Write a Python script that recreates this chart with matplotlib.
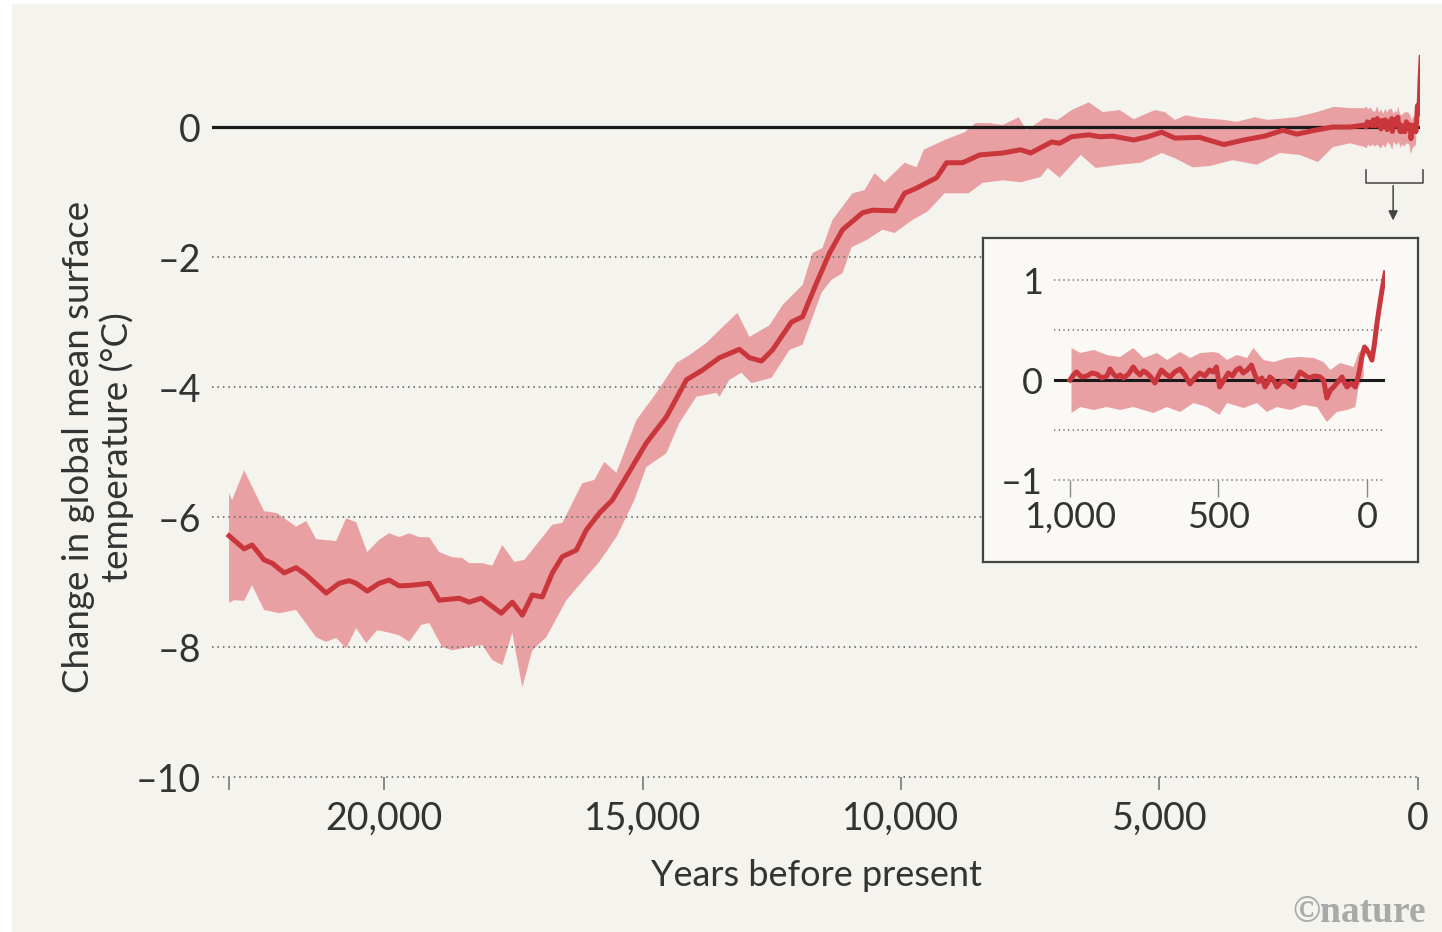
import numpy as np
import matplotlib.pyplot as plt

plt.rcParams['font.family'] = ['Lato', 'DejaVu Sans']

# Global mean surface temperature anomaly (deg C), years before present
years = [23000, 22709, 22554, 22322, 22167, 21935, 21703, 21509, 21122, 20870,
         20676, 20541, 20328, 20096, 19902, 19708, 19457, 19128, 18934, 18547,
         18353, 18121, 17734, 17521, 17327, 17134, 16940, 16746, 16553, 16282,
         16088, 15836, 15585, 15314, 14927, 14540, 14152, 13842, 13513, 13126,
         12932, 12700, 12487, 12119, 11906, 11635, 11384, 11132, 10745, 10551,
         10125, 9932, 9699, 9312, 9119, 8809, 8480, 8034, 7686, 7492,
         7086, 6931, 6699, 6369, 6156, 5905, 5498, 5227, 4956, 4704,
         4220, 3756, 3369, 2962, 2614, 2343, 1994, 1646, 1316, 1026]
temp = [-6.29, -6.49, -6.43, -6.66, -6.71, -6.86, -6.78, -6.89, -7.17, -7.02,
        -6.98, -7.02, -7.14, -7.02, -6.97, -7.06, -7.05, -7.02, -7.28, -7.25,
        -7.31, -7.25, -7.48, -7.31, -7.51, -7.20, -7.23, -6.86, -6.61, -6.51,
        -6.20, -5.94, -5.74, -5.38, -4.86, -4.46, -3.89, -3.74, -3.55, -3.42,
        -3.55, -3.60, -3.43, -3.00, -2.92, -2.40, -1.94, -1.58, -1.32, -1.28,
        -1.29, -1.02, -0.94, -0.78, -0.55, -0.55, -0.43, -0.40, -0.35, -0.40,
        -0.23, -0.25, -0.15, -0.12, -0.15, -0.14, -0.20, -0.15, -0.08, -0.17,
        -0.16, -0.27, -0.20, -0.14, -0.05, -0.11, -0.05, 0.00, 0.00, 0.03]

# uncertainty envelope (upper and lower edges)
upper_years = [23000, 22941, 22709, 22322, 22070, 21703, 21509, 21315, 20928, 20735,
               20541, 20328, 20096, 19902, 19708, 19515, 19321, 19128, 18934, 18682,
               18489, 18353, 18102, 17908, 17714, 17482, 17288, 16746, 16553, 16166,
               15933, 15740, 15507, 15120, 14733, 14346, 14094, 13765, 13455, 13165,
               12932, 12545, 12294, 11906, 11713, 11519, 11326, 10938, 10706, 10512,
               10319, 9932, 9699, 9560, 9157, 8770, 8557, 8286, 8034, 7725,
               7570, 7221, 6970, 6699, 6369, 6098, 5769, 5498, 5092, 4898,
               4704, 4491, 4220, 3756, 3504, 3156, 2904, 2362, 1955, 1626,
               1297, 1026]
upper = [-5.63, -5.74, -5.28, -5.91, -5.94, -6.15, -6.06, -6.34, -6.37, -6.02,
         -6.08, -6.54, -6.35, -6.25, -6.31, -6.25, -6.31, -6.31, -6.54, -6.62,
         -6.63, -6.71, -6.71, -6.75, -6.43, -6.69, -6.66, -6.12, -6.09, -5.48,
         -5.43, -5.15, -5.32, -4.51, -4.09, -3.63, -3.51, -3.32, -3.08, -2.86,
         -3.23, -3.05, -2.74, -2.43, -1.94, -1.86, -1.43, -1.02, -0.97, -0.71,
         -0.85, -0.55, -0.62, -0.35, -0.20, -0.08, 0.06, 0.06, 0.03, 0.15,
         -0.05, 0.14, 0.11, 0.26, 0.38, 0.23, 0.26, 0.12, 0.26, 0.23,
         0.11, 0.18, 0.14, 0.11, 0.08, 0.15, 0.11, 0.15, 0.23, 0.31,
         0.29, 0.29]
lower_years = [23000, 22903, 22709, 22554, 22322, 22032, 21703, 21315, 21122, 20928,
               20735, 20541, 20347, 20134, 19902, 19708, 19515, 19283, 19128, 18876,
               18682, 18353, 18102, 17908, 17714, 17521, 17327, 17134, 16863, 16475,
               16088, 15836, 15500, 15159, 14927, 14540, 14288, 13959, 13571, 13513,
               13320, 13087, 12894, 12507, 12158, 11906, 11539, 11345, 11132, 10958,
               10667, 10358, 10125, 9777, 9486, 9157, 8693, 8422, 8034, 7686,
               7299, 7163, 6931, 6524, 6234, 5769, 5363, 4956, 4704, 4356,
               4027, 3582, 3117, 2672, 2284, 1936, 1646, 1316, 1026]
lower = [-7.32, -7.28, -7.29, -7.05, -7.43, -7.48, -7.43, -7.85, -7.92, -7.86,
         -8.02, -7.71, -7.94, -7.74, -7.78, -7.82, -7.92, -7.66, -7.63, -8.00,
         -8.05, -8.00, -7.97, -8.20, -8.28, -7.78, -8.62, -8.05, -7.85, -7.28,
         -6.92, -6.69, -6.30, -5.74, -5.23, -5.02, -4.55, -4.15, -4.09, -4.15,
         -3.89, -3.78, -3.94, -3.86, -3.43, -3.35, -2.55, -2.35, -2.25, -1.85,
         -1.74, -1.58, -1.63, -1.43, -1.30, -1.02, -1.02, -0.86, -0.82, -0.85,
         -0.77, -0.63, -0.78, -0.43, -0.63, -0.58, -0.55, -0.40, -0.48, -0.62,
         -0.60, -0.51, -0.58, -0.40, -0.43, -0.54, -0.31, -0.25, -0.31]

# last millennium (shown in inset)
recent_years = [1000, 989, 978, 961, 943, 927, 910, 893, 876, 865,
                854, 843, 831, 820, 803, 787, 775, 764, 753, 742,
                728, 714, 703, 692, 678, 663, 647, 630, 613, 596,
                580, 563, 546, 530, 518, 507, 496, 481, 467, 453,
                440, 428, 417, 403, 389, 377, 366, 354, 343, 335,
                327, 315, 303, 289, 275, 261, 247, 236, 225, 210,
                196, 176, 157, 146, 135, 123, 112, 98, 84, 75,
                67, 53, 39, 28, 17, 8, 0, -8, -17, -25,
                -34, -43, -51, -62]
recent_temp = [0.00, 0.05, 0.08, 0.03, 0.04, 0.07, 0.06, 0.02, 0.04, 0.11,
               0.06, 0.03, 0.05, 0.02, 0.06, 0.13, 0.08, 0.05, 0.09, 0.07,
               0.03, -0.03, 0.04, 0.10, 0.06, 0.03, 0.08, 0.11, 0.05, -0.04,
               0.02, 0.07, 0.04, 0.10, 0.08, 0.13, -0.07, 0.00, 0.07, 0.04,
               0.10, 0.12, 0.07, 0.10, 0.15, 0.05, -0.02, 0.02, -0.07, -0.03,
               0.03, 0.00, -0.07, -0.02, -0.01, -0.04, -0.07, 0.02, 0.08, 0.05,
               0.02, 0.04, 0.03, 0.00, -0.18, -0.10, -0.07, -0.02, 0.03, -0.03,
               -0.07, -0.03, -0.07, 0.05, 0.23, 0.33, 0.30, 0.26, 0.20, 0.35,
               0.57, 0.75, 0.90, 1.07]
recent_up_years = [995, 965, 920, 876, 831, 787, 752, 707, 673, 629,
                   595, 561, 516, 500, 471, 438, 404, 382, 348, 314,
                   269, 224, 180, 146, 123, 90, 45, 28, 11]
recent_up = [0.32, 0.27, 0.30, 0.25, 0.23, 0.32, 0.22, 0.27, 0.20, 0.28,
             0.22, 0.27, 0.28, 0.27, 0.20, 0.25, 0.22, 0.32, 0.20, 0.18,
             0.22, 0.23, 0.22, 0.18, 0.10, 0.17, 0.13, 0.27, 0.33]
recent_lo_years = [995, 965, 920, 876, 831, 787, 719, 674, 629, 584,
                   539, 497, 471, 415, 370, 337, 303, 258, 213, 168,
                   135, 101, 67, 39, 28, 11]
recent_lo = [-0.33, -0.27, -0.30, -0.27, -0.30, -0.27, -0.33, -0.27, -0.32, -0.23,
             -0.27, -0.35, -0.23, -0.28, -0.23, -0.32, -0.27, -0.30, -0.25, -0.27,
             -0.42, -0.32, -0.30, -0.27, -0.07, 0.03]

main_xticks = [23000, 20000, 15000, 10000, 5000, 0]
main_xlabels = ['', '20,000', '15,000', '10,000', '5,000', '0']
main_yticks = [0, -2, -4, -6, -8, -10]
main_ylabels = ['0', '\u20132', '\u20134', '\u20136', '\u20138', '\u201310']
inset_xticks = [1000, 500, 0]
inset_xlabels = ['1,000', '500', '0']
inset_yticks = [1, 0, -1]
inset_ylabels = ['1', '0', '\u20131']

RED = '#c9363b'
PINK = '#e8a0a3'
BG = '#f4f3ed'
GRID = '#7a7a7a'
TXT = '#333333'

fig = plt.figure(figsize=(14.42, 9.32), dpi=100)
fig.patch.set_facecolor('white')
fig.patches.append(plt.Rectangle((12 / 1442, 0), 1, 1 - 4 / 932, transform=fig.transFigure,
                                 facecolor=BG, edgecolor='none', zorder=-10))

# ---- main panel
ax = fig.add_axes([212 / 1442, 155 / 932, 1208 / 1442, 728 / 932])
ax.set_facecolor('none')
ax.set_xlim(23330, -40)
ax.set_ylim(-10, 1.2)
for s in ax.spines.values():
    s.set_visible(False)

all_years = years + recent_years
all_temp = temp + recent_temp
band_x = upper_years + recent_up_years + recent_lo_years[::-1] + lower_years[::-1]
band_y = upper + recent_up + recent_lo[::-1] + lower[::-1]
ax.fill(band_x, band_y, color=PINK, lw=0, zorder=1)
for y in main_yticks[1:]:
    ax.axhline(y, color=GRID, lw=1.4, ls=(0, (0.8, 2.0)), zorder=2, clip_on=False)
ax.axhline(0, color='#1a1a1a', lw=2.3, zorder=2.5, solid_capstyle='round')
ax.plot(all_years, all_temp, color=RED, lw=3.6, zorder=3, solid_joinstyle='round')

ax.set_xticks(main_xticks)
ax.set_xticklabels(main_xlabels)
ax.set_yticks(main_yticks)
ax.set_yticklabels(main_ylabels)
ax.tick_params(axis='x', direction='out', length=9, width=1.2, color='#777777',
               pad=8, labelsize=27, labelcolor=TXT)
ax.tick_params(axis='y', length=0, pad=8, labelsize=27, labelcolor=TXT)
ax.set_xlabel('Years before present', fontsize=26, color=TXT, labelpad=16)

fig.text(98 / 1442, 1 - 447 / 932, 'Change in global mean surface\ntemperature (\u00b0C)',
         rotation=90, ha='center', va='center', fontsize=26.5, color=TXT,
         multialignment='center', linespacing=1.12)

# bracket + arrow marking the last millennium
ax.plot([1000, 1000, -100, -100], [-0.66, -0.86, -0.86, -0.66], color='#444444', lw=1.1,
        zorder=3, clip_on=False)
ax.annotate('', xy=(480, -1.48), xytext=(480, -0.86),
            arrowprops=dict(arrowstyle='-|>', color='#444444', lw=1.1, mutation_scale=14))

# ---- inset
box = fig.add_axes([983 / 1442, 370 / 932, 435 / 1442, 324 / 932])
box.set_facecolor('#faf9f5')
box.set_xticks([])
box.set_yticks([])
for s in box.spines.values():
    s.set_color('#444444')
    s.set_linewidth(1.6)

ins = fig.add_axes([1054 / 1442, 452 / 932, 331 / 1442, 210 / 932])
ins.set_facecolor('none')
ins.set_xlim(1054, -61)
ins.set_ylim(-1, 1.1)
for s in ins.spines.values():
    s.set_visible(False)
ins_band_x = recent_up_years + recent_lo_years[::-1]
ins_band_y = recent_up + recent_lo[::-1]
ins.fill(ins_band_x, ins_band_y, color=PINK, lw=0, zorder=1)
for y in [1, 0.5, -0.5, -1]:
    ins.axhline(y, color=GRID, lw=1.2, ls=(0, (0.8, 2.0)), zorder=2, clip_on=False)
ins.axhline(0, color='#1a1a1a', lw=2.2, zorder=1.5)
ins.plot(recent_years, recent_temp, color=RED, lw=3.6, zorder=3, solid_joinstyle='round')
ins.set_xticks(inset_xticks)
ins.set_xticklabels(inset_xlabels)
ins.set_yticks(inset_yticks)
ins.set_yticklabels(inset_ylabels)
ins.tick_params(axis='x', direction='out', length=12, width=1.0, color='#888888',
                pad=3, labelsize=26, labelcolor=TXT)
ins.tick_params(axis='y', length=0, pad=8, labelsize=26, labelcolor=TXT)

fig.text(1426 / 1442, 1 - 912 / 932, '\u00a9nature', ha='right', va='center',
         fontsize=27, fontweight='bold', family='Liberation Serif', color='#a9a9a9')

fig.savefig('out.png', dpi=100, facecolor=fig.get_facecolor())
